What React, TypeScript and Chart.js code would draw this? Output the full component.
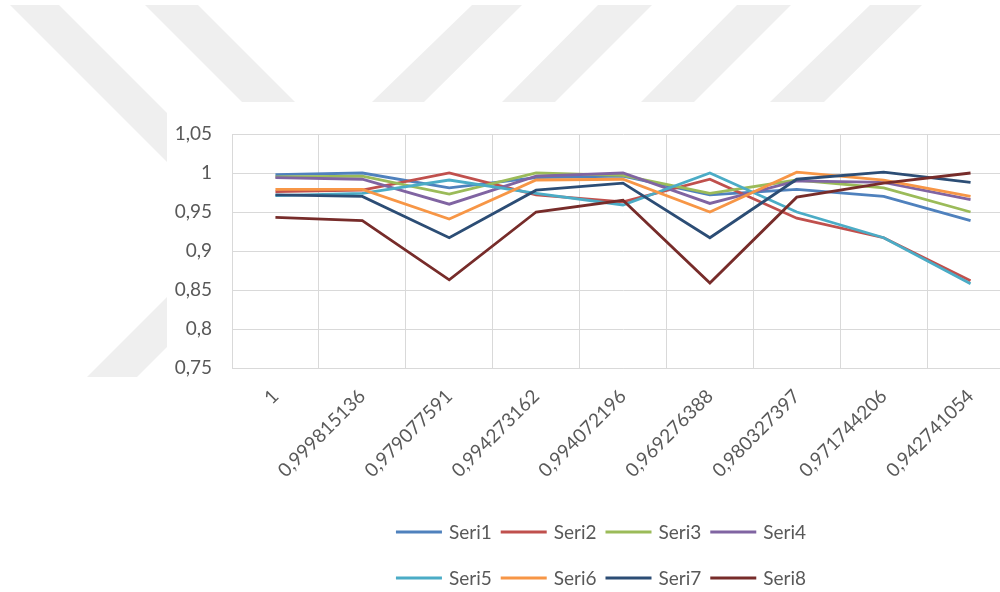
import { useEffect, useRef } from "react";
import { Chart, registerables } from "chart.js";

Chart.register(...registerables);

// ---- data ----
const categories = [
  "1",
  "0,999815136",
  "0,979077591",
  "0,994273162",
  "0,994072196",
  "0,969276388",
  "0,980327397",
  "0,971744206",
  "0,942741054",
];

const seriesNames = ["Seri1", "Seri2", "Seri3", "Seri4", "Seri5", "Seri6", "Seri7", "Seri8"];

const seri1 = [0.998, 1.0, 0.981, 0.994, 0.996, 0.972, 0.979, 0.97, 0.939];
const seri2 = [0.976, 0.978, 1.0, 0.972, 0.963, 0.992, 0.942, 0.917, 0.862];
const seri3 = [0.995, 0.996, 0.973, 1.0, 0.997, 0.974, 0.991, 0.981, 0.95];
const seri4 = [0.994, 0.992, 0.96, 0.996, 1.0, 0.961, 0.99, 0.988, 0.966];
const seri5 = [0.971, 0.974, 0.991, 0.974, 0.959, 1.0, 0.95, 0.917, 0.858];
const seri6 = [0.979, 0.979, 0.941, 0.991, 0.992, 0.95, 1.001, 0.991, 0.97];
const seri7 = [0.972, 0.97, 0.917, 0.978, 0.987, 0.917, 0.992, 1.001, 0.988];
const seri8 = [0.943, 0.939, 0.863, 0.95, 0.965, 0.859, 0.969, 0.987, 1.0];

const seriesValues = [seri1, seri2, seri3, seri4, seri5, seri6, seri7, seri8];

const seriesColors = [
  "#4F81BD",
  "#C0504D",
  "#9BBB59",
  "#8064A2",
  "#4BACC6",
  "#F79646",
  "#2C4D75",
  "#772C2A",
];

const yMin = 0.75;
const yMax = 1.05;
const yStep = 0.05;

// ---- styles ----
const FONT = "Lato, 'Open Sans', sans-serif";
const TEXT_COLOR = "#595959";
const GRID_COLOR = "#d9d9d9";

const watermarkPolygons: number[][][] = [
  [[10, 5], [59, 5], [167, 113], [167, 162]],
  [[145, 5], [198, 5], [295, 102], [242, 102]],
  [[472, 5], [522, 5], [424, 102], [372, 102]],
  [[598, 5], [652, 5], [555, 102], [502, 102]],
  [[737, 5], [791, 5], [694, 102], [641, 102]],
  [[870, 5], [922, 5], [824, 102], [770, 102]],
  [[167, 297], [167, 347], [137, 377], [87, 377]],
];

const watermarkPlugin = {
  id: "watermark",
  beforeDraw(chart: any) {
    const ctx = chart.ctx as CanvasRenderingContext2D;
    ctx.save();
    ctx.fillStyle = "#efefef";
    for (const poly of watermarkPolygons) {
      ctx.beginPath();
      poly.forEach(([x, y], i) => (i === 0 ? ctx.moveTo(x, y) : ctx.lineTo(x, y)));
      ctx.closePath();
      ctx.fill();
    }
    ctx.restore();
  },
};

const LEGEND_CENTER_X = 601;
const LEGEND_ROWS_Y = [532, 578];

const rowLegendPlugin = {
  id: "rowLegend",
  afterDraw(chart: any) {
    const ctx = chart.ctx as CanvasRenderingContext2D;
    const ds = chart.data.datasets;
    const lineLen = 46;
    const gapText = 7;
    const gapItem = 9;
    ctx.save();
    ctx.font = `19px ${FONT}`;
    ctx.textBaseline = "middle";
    const rows = [ds.slice(0, 4), ds.slice(4, 8)];
    rows.forEach((row: any[], r: number) => {
      const widths = row.map((d) => lineLen + gapText + ctx.measureText(d.label).width);
      const total = widths.reduce((a, b) => a + b, 0) + gapItem * (row.length - 1);
      let x = LEGEND_CENTER_X - total / 2;
      const y = LEGEND_ROWS_Y[r];
      row.forEach((d, i) => {
        ctx.strokeStyle = d.borderColor;
        ctx.lineWidth = 3;
        ctx.beginPath();
        ctx.moveTo(x, y);
        ctx.lineTo(x + lineLen, y);
        ctx.stroke();
        ctx.fillStyle = TEXT_COLOR;
        ctx.fillText(d.label, x + lineLen + gapText, y + 1);
        x += widths[i] + gapItem;
      });
    });
    ctx.restore();
  },
};

function fmt(v: number): string {
  const r = Math.round(v * 100) / 100;
  return String(r).replace(".", ",");
}

export default function App() {
  const canvasRef = useRef<HTMLCanvasElement | null>(null);

  useEffect(() => {
    if (!canvasRef.current) return;
    Chart.defaults.font.family = FONT;
    const chart = new Chart(canvasRef.current, {
      type: "line",
      data: {
        labels: categories,
        datasets: seriesNames.map((name, i) => ({
          label: name,
          data: seriesValues[i],
          borderColor: seriesColors[i],
          backgroundColor: seriesColors[i],
          borderWidth: 2.8,
          pointRadius: 0,
          tension: 0,
          fill: false,
          order: seriesNames.length - 1 - i,
        })),
      },
      options: {
        responsive: false,
        animation: false,
        layout: { padding: { top: 134, right: 2, left: 0, bottom: 0 } },
        plugins: {
          legend: { display: false },
          tooltip: { enabled: false },
        },
        scales: {
          x: {
            type: "category",
            offset: true,
            grid: { offset: true, color: GRID_COLOR, drawTicks: false, lineWidth: 1 },
            border: { color: GRID_COLOR },
            ticks: {
              color: TEXT_COLOR,
              font: { size: 19 },
              minRotation: 45,
              maxRotation: 45,
              autoSkip: false,
              padding: 17,
            },
            afterFit: (s: any) => {
              s.height = 224;
            },
          },
          y: {
            min: yMin,
            max: yMax,
            grid: { color: GRID_COLOR, drawTicks: false, lineWidth: 1 },
            border: { color: GRID_COLOR },
            ticks: {
              stepSize: yStep,
              color: TEXT_COLOR,
              font: { size: 19 },
              padding: 20,
              callback: (v: any) => fmt(Number(v)),
            },
            afterFit: (s: any) => {
              s.width = 232;
            },
          },
        },
      } as any,
      plugins: [watermarkPlugin, rowLegendPlugin],
    });
    return () => chart.destroy();
  }, []);

  return (
    <div
      style={{
        position: "fixed",
        left: 0,
        top: 0,
        width: 1000,
        height: 592,
        overflow: "hidden",
        background: "#ffffff",
      }}
    >
      <canvas ref={canvasRef} width={1016} height={592} style={{ display: "block" }} />
    </div>
  );
}
